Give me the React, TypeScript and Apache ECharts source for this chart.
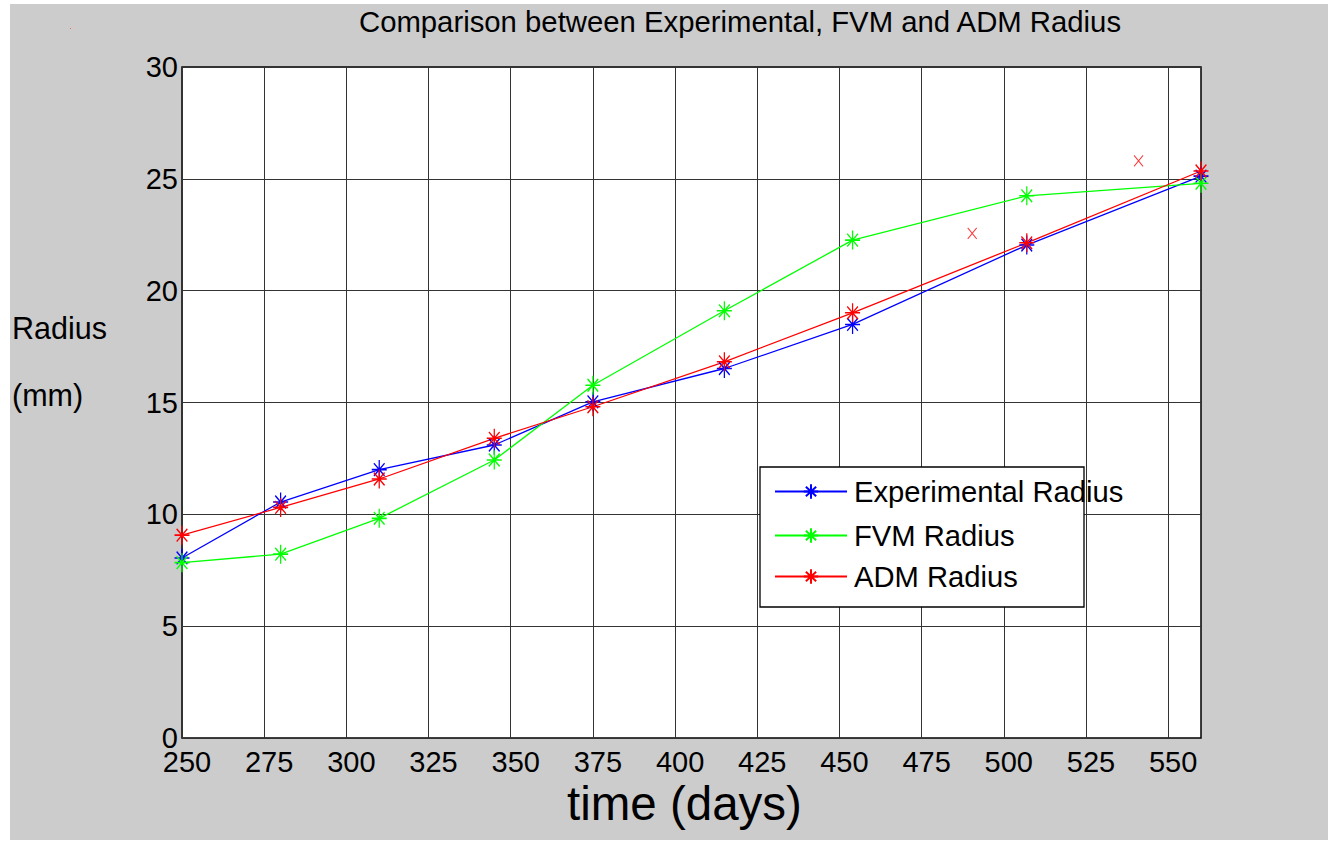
import React, { useEffect, useRef } from "react";
import * as echarts from "echarts";

const days = [250, 280, 310, 345, 375, 415, 454, 507, 560];
const experimentalRadius = [8.05, 10.55, 12.0, 13.1, 15.03, 16.52, 18.49, 22.04, 25.12];
const fvmRadius = [7.84, 8.22, 9.82, 12.43, 15.77, 19.1, 22.26, 24.24, 24.8];
const admRadius = [9.07, 10.31, 11.58, 13.4, 14.81, 16.82, 19.01, 22.14, 25.35];
const admExtraDays = [490.4, 541];
const admExtraRadius = [22.56, 25.8];

const seriesNames = ["Experimental Radius", "FVM Radius", "ADM Radius"];
const seriesColors = ["#0000ff", "#00ff00", "#ff0000"];

const FONT = "'Liberation Sans', Arial, sans-serif";
const ASTERISK = "path://M0,9L14,9M7,0L7,18M2,3L12,15M12,3L2,15";
const CROSS = "path://M0,0L10,12M10,0L0,12";

export default function App() {
  const ref = useRef<HTMLDivElement>(null);

  useEffect(() => {
    if (!ref.current) return;
    const chart = echarts.init(ref.current, null, { renderer: "svg" });
    const seriesData = [experimentalRadius, fvmRadius, admRadius];
    const legendLineY = [493, 537, 578];

    const option: any = {
      animation: false,
      backgroundColor: "#cccccc",
      textStyle: { fontFamily: FONT },
      grid: {
        left: 172,
        top: 63,
        right: 127,
        bottom: 102,
        show: true,
        backgroundColor: "#ffffff",
        borderColor: "#000000",
        borderWidth: 1.5,
      },
      xAxis: {
        type: "value",
        min: 250,
        max: 560,
        interval: 25,
        axisLine: { show: false },
        axisTick: { show: false },
        axisLabel: {
          color: "#000",
          fontSize: 29,
          fontFamily: FONT,
          lineHeight: 18,
          margin: 15,
          padding: [0, 0, 0, 10],
        },
        splitLine: { show: true, lineStyle: { color: "#333", width: 1 } },
      },
      yAxis: {
        type: "value",
        min: 0,
        max: 30,
        interval: 5,
        axisLine: { show: false },
        axisTick: { show: false },
        axisLabel: {
          color: "#000",
          fontSize: 29,
          fontFamily: FONT,
          lineHeight: 18,
          margin: 4,
        },
        splitLine: { show: true, lineStyle: { color: "#333", width: 1 } },
      },
      legend: seriesNames.map((name, i) => ({
        data: [name],
        left: 764,
        top: legendLineY[i] - 9 - 4 - 7,
        padding: 0,
        itemGap: 0,
        itemWidth: 72,
        itemHeight: 18,
        selectedMode: false,
        textStyle: {
          color: "#000",
          fontSize: 29.2,
          fontFamily: FONT,
          lineHeight: 18,
          padding: [0, 0, 0, 2],
        },
        z: 5,
      })),
      series: [
        ...seriesNames.map((name, i) => ({
          name,
          type: "line",
          data: days.map((d, j) => [d, seriesData[i][j]]),
          symbol: ASTERISK,
          symbolSize: [15, 19],
          showSymbol: true,
          clip: false,
          lineStyle: { color: seriesColors[i], width: 1.3 },
          itemStyle: {
            color: seriesColors[i],
            borderColor: seriesColors[i],
            borderWidth: 1.4,
          },
          emphasis: { disabled: true },
          z: 2,
        })),
        {
          name: "ADM extra points",
          type: "scatter",
          data: admExtraDays.map((d, j) => [d, admExtraRadius[j]]),
          symbol: CROSS,
          symbolSize: [9, 11],
          clip: false,
          itemStyle: { color: "#ff0000", borderColor: "#ff0000", borderWidth: 1.1 },
          emphasis: { disabled: true },
          z: 2,
        },
      ],
      graphic: [
        {
          type: "rect",
          shape: { x: 750, y: 463, width: 324, height: 140 },
          style: { fill: "#ffffff", stroke: "#000000", lineWidth: 1.3 },
          z: 3,
        },
        {
          type: "text",
          x: 730,
          y: 17,
          style: {
            text: "Comparison between Experimental, FVM and ADM Radius",
            fontSize: 29.3,
            fontFamily: FONT,
            fill: "#000",
            align: "center",
            verticalAlign: "middle",
          },
        },
        {
          type: "text",
          x: 2,
          y: 323.5,
          style: {
            text: "Radius",
            fontSize: 30.5,
            fontFamily: FONT,
            fill: "#000",
            align: "left",
            verticalAlign: "middle",
          },
        },
        {
          type: "text",
          x: 2,
          y: 391,
          style: {
            text: "(mm)",
            fontSize: 30.5,
            fontFamily: FONT,
            fill: "#000",
            align: "left",
            verticalAlign: "middle",
          },
        },
        {
          type: "text",
          x: 557,
          y: 799,
          style: {
            text: "time (days)",
            fontSize: 47.5,
            fontFamily: FONT,
            fill: "#000",
            align: "left",
            verticalAlign: "middle",
          },
        },
        {
          type: "rect",
          shape: { x: 60, y: 24, width: 1, height: 1 },
          style: { fill: "#ff6060" },
        },
      ],
    };

    chart.setOption(option);
    return () => chart.dispose();
  }, []);

  return (
    <div
      style={{
        position: "fixed",
        left: 0,
        top: 0,
        width: 1330,
        height: 842,
        background: "#ffffff",
      }}
    >
      <div
        ref={ref}
        style={{ position: "absolute", left: 10, top: 4, width: 1318, height: 836 }}
      />
    </div>
  );
}
